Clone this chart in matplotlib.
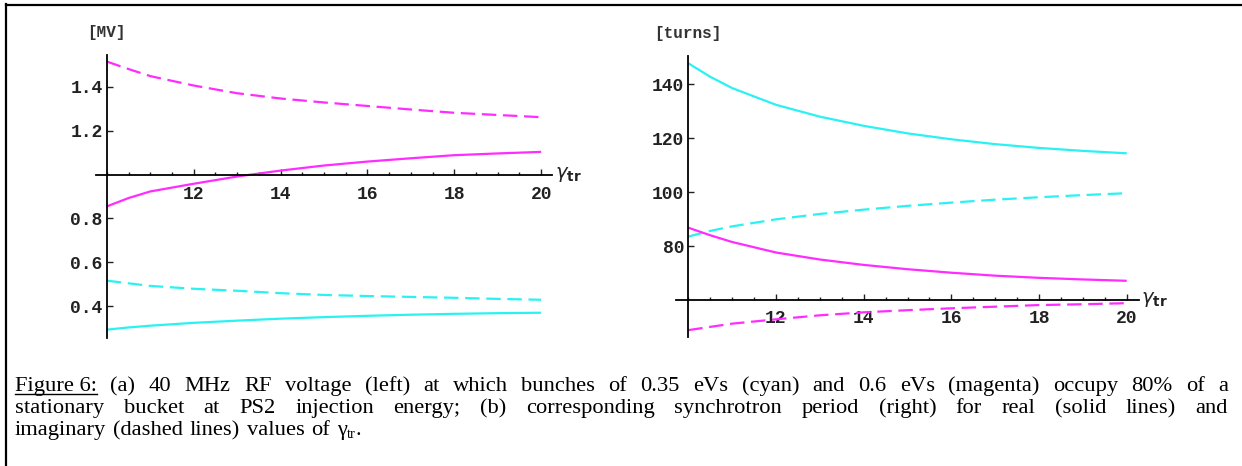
import matplotlib
matplotlib.use('Agg')
import matplotlib.pyplot as plt
from matplotlib.lines import Line2D
from matplotlib.ticker import MultipleLocator, FixedLocator

# gamma_tr values
gamma = [10, 10.5, 11, 12, 13, 14, 15, 16, 17, 18, 19, 20]

# (a) RF voltage [MV]
v_cyan_real = [0.294, 0.304, 0.312, 0.325, 0.335, 0.344, 0.351, 0.357, 0.362, 0.366, 0.369, 0.371]
v_cyan_imag = [0.517, 0.505, 0.493, 0.480, 0.471, 0.460, 0.452, 0.447, 0.443, 0.439, 0.434, 0.430]
v_mag_real = [0.855, 0.893, 0.923, 0.958, 0.991, 1.018, 1.041, 1.059, 1.074, 1.088, 1.096, 1.103]
v_mag_imag = [1.514, 1.480, 1.448, 1.405, 1.370, 1.346, 1.328, 1.312, 1.296, 1.281, 1.271, 1.261]

# (b) synchrotron period [turns]
t_cyan_real = [147.8, 142.8, 138.6, 132.4, 128.0, 124.6, 121.8, 119.6, 117.8, 116.4, 115.3, 114.4]
t_cyan_imag = [83.5, 85.6, 87.3, 89.9, 91.9, 93.5, 94.9, 96.1, 97.2, 98.1, 98.9, 99.6]
t_mag_real = [86.8, 84.0, 81.5, 77.6, 75.0, 73.0, 71.4, 70.1, 69.0, 68.2, 67.6, 67.1]
t_mag_imag = [48.8, 50.0, 51.2, 52.8, 54.3, 55.4, 56.2, 56.9, 57.5, 58.1, 58.4, 58.8]

v_ticks = [0.4, 0.6, 0.8, 1.2, 1.4]
t_ticks = [80, 100, 120, 140]
x_ticks = [12, 14, 16, 18, 20]

CYAN = '#2af2f2'
MAGENTA = '#ff2cff'
MONO = 'Liberation Mono'

W, H = 1242, 466
fig = plt.figure(figsize=(W / 100, H / 100), dpi=100)


def px_axes(x0, x1, ytop, ybot):
    return fig.add_axes([x0 / W, 1 - ybot / H, (x1 - x0) / W, (ybot - ytop) / H])


def style_axes(ax, xlim, ylim, origin_y, yticks, unit, xpad):
    ax.set_xlim(*xlim)
    ax.set_ylim(*ylim)
    for s in ['top', 'right']:
        ax.spines[s].set_visible(False)
    ax.spines['left'].set_position(('data', 10))
    ax.spines['bottom'].set_position(('data', origin_y))
    for s in ['left', 'bottom']:
        ax.spines[s].set_linewidth(1.3)
    ax.xaxis.set_major_locator(FixedLocator(x_ticks))
    ax.xaxis.set_minor_locator(MultipleLocator(0.5))
    ax.yaxis.set_major_locator(FixedLocator(yticks))
    ax.yaxis.set_minor_locator(FixedLocator([]))
    ax.tick_params(axis='both', which='both', direction='in', width=1.0, colors='#222222')
    ax.tick_params(axis='both', which='major', length=4.5)
    ax.tick_params(axis='both', which='minor', length=2.5)
    ax.tick_params(axis='x', pad=xpad)
    ax.tick_params(axis='y', pad=3)
    for lab in ax.get_xticklabels() + ax.get_yticklabels():
        lab.set_fontfamily(MONO)
        lab.set_fontsize(13)
        lab.set_fontweight('bold')
        lab.set_color('#222222')
    ax.patch.set_visible(False)
    ax.text(20.33, origin_y, r'$\gamma_{\mathbf{tr}}$', fontsize=14, ha='left', va='center',
            color='#222222')
    ax.text(10, 1.08, unit, transform=ax.get_xaxis_transform(), ha='center', va='center',
            fontfamily=MONO, fontsize=11.5, fontweight='bold', color='#333333')


def draw(ax, real, imag, color):
    ax.plot(gamma, real, color=color, lw=1.6, solid_capstyle='butt', clip_on=False)
    l, = ax.plot(gamma, imag, color=color, lw=1.6, clip_on=False)
    l.set_dashes((6.5, 3.0))


# left panel
ax1 = px_axes(96, 552, 55, 338)
draw(ax1, v_mag_real, v_mag_imag, MAGENTA)
draw(ax1, v_cyan_real, v_cyan_imag, CYAN)
style_axes(ax1, (9.75, 20.25), (0.256, 1.544), 1.0, v_ticks, '[MV]', 8)
ax1.yaxis.set_major_formatter(plt.FuncFormatter(lambda v, p: f'{v:.1f}'))

# right panel
ax2 = px_axes(676, 1139, 56, 337)
draw(ax2, t_cyan_real, t_cyan_imag, CYAN)
draw(ax2, t_mag_real, t_mag_imag, MAGENTA)
style_axes(ax2, (9.72, 20.28), (46.25, 150.5), 60, t_ticks, '[turns]', 7)

# frame lines around the figure box
fig.add_artist(Line2D([5.5 / W, 5.5 / W], [0, 1 - 4 / H], color='black', lw=1.6))
fig.add_artist(Line2D([5.5 / W, 1], [1 - 4.5 / H, 1 - 4.5 / H], color='black', lw=1.6))

# caption, justified like the original document
SERIF = 'Liberation Serif'
x_left, x_right = 15, 1228
line1 = ['Figure 6:', '(a)', '40', 'MHz', 'RF', 'voltage', '(left)', 'at', 'which', 'bunches', 'of',
         '0.35', 'eVs', '(cyan)', 'and', '0.6', 'eVs', '(magenta)', 'occupy', '80%', 'of', 'a']
line2 = ['stationary', 'bucket', 'at', 'PS2', 'injection', 'energy;', '(b)', 'corresponding',
         'synchrotron', 'period', '(right)', 'for', 'real', '(solid', 'lines)', 'and']
line3 = ['imaginary', '(dashed', 'lines)', 'values', 'of', 'γ']
baselines = [391, 413, 435]

renderer = fig.canvas.get_renderer()

# caption size: a bit under what would fill the first line with plain spaces
probe = fig.text(0, 0, ' '.join(line1) + ' ', fontfamily=SERIF, fontsize=10)
CAP_SIZE = 0.87 * 10 * (x_right - x_left) / probe.get_window_extent(renderer).width
probe.remove()
space = CAP_SIZE * 100 / 72 * 0.3


def put_words(words, y, justify):
    texts = [fig.text(0, 1 - y / H, w, fontfamily=SERIF, fontsize=CAP_SIZE, va='baseline')
             for w in words]
    widths = [t.get_window_extent(renderer).width for t in texts]
    if justify:
        gap = (x_right - x_left - sum(widths)) / (len(words) - 1)
    else:
        gap = space
    x = x_left
    for t, w in zip(texts, widths):
        t.set_x(x / W)
        x += w + gap
    return texts, widths, x - gap


t1, w1, _ = put_words(line1, baselines[0], True)
# underline "Figure 6:"
fig.add_artist(Line2D([x_left / W, (x_left + w1[0]) / W],
                      [1 - (baselines[0] + 3) / H, 1 - (baselines[0] + 3) / H], color='black', lw=1.0))
put_words(line2, baselines[1], True)
t3, w3, x_end = put_words(line3, baselines[2], False)
sub = fig.text(x_end / W, 1 - (baselines[2] + 3) / H, 'tr', fontfamily=SERIF,
               fontsize=CAP_SIZE * 0.65, va='baseline')
sw = sub.get_window_extent(renderer).width
fig.text((x_end + sw) / W, 1 - baselines[2] / H, '.', fontfamily=SERIF, fontsize=CAP_SIZE,
         va='baseline')

fig.savefig('out.png', dpi=100)
